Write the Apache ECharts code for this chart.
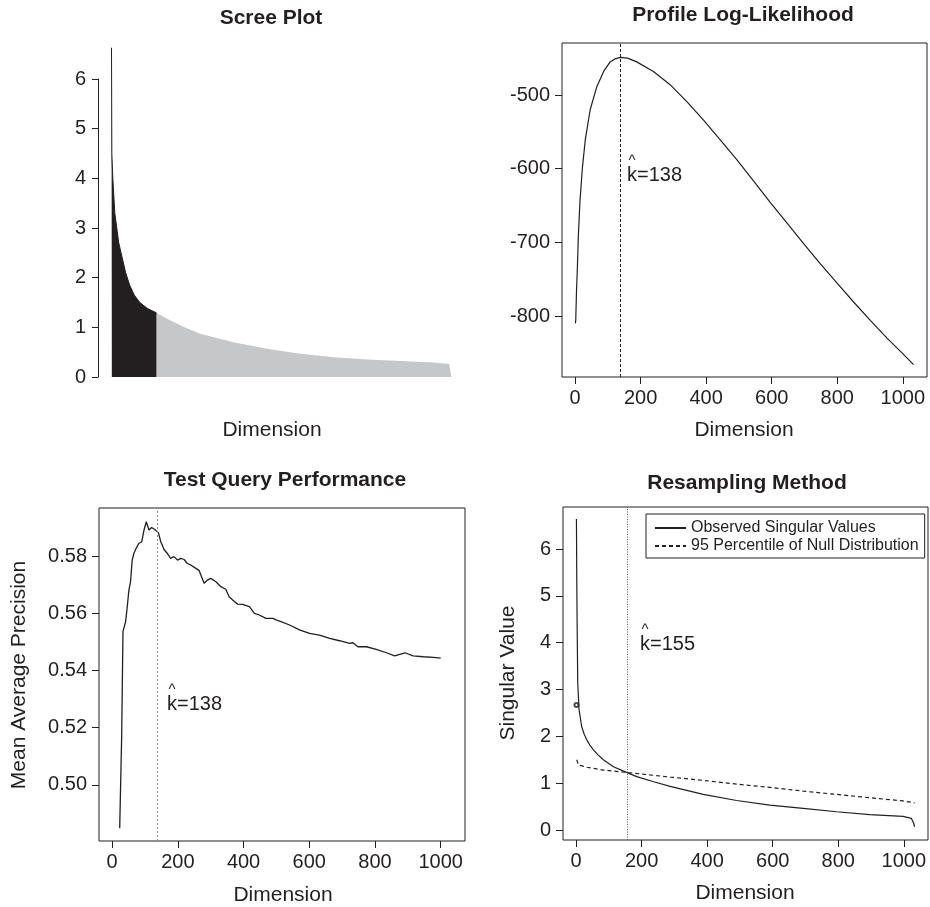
<!DOCTYPE html>
<html>
<head>
<meta charset="utf-8">
<script src="https://cdn.jsdelivr.net/npm/echarts@6/dist/echarts.min.js"></script>
<style>
  html, body { margin: 0; padding: 0; background: #fff; }
  #chart { width: 930px; height: 907px; }
</style>
</head>
<body>
<div id="chart"></div>
<script>
/* four-panel dimension selection figure */
var screeDims = [1, 2, 5, 11, 23, 44, 56, 70, 87, 110, 138, 168, 219, 270, 371, 473, 574, 676, 777, 879, 980, 1026, 1033];
var screeVals = [6.63, 4.50, 4.00, 3.30, 2.70, 2.10, 1.85, 1.65, 1.50, 1.38, 1.29, 1.18, 1.01, 0.87, 0.70, 0.57, 0.47, 0.40, 0.35, 0.32, 0.29, 0.26, 0.0];
var screeCut = 138;

var profDims = [1, 2, 4, 7, 10, 15, 22, 31, 46, 66, 87, 107, 122, 138, 160, 188, 239, 290, 341, 392, 443, 494, 545, 596, 647, 698, 748, 799, 850, 901, 952, 1000, 1033];
var profLL = [-810, -805, -770, -733, -690, -643, -600, -561, -520, -489, -468, -455, -451, -449, -450, -455, -468, -486, -509, -534, -561, -588, -617, -646, -674, -702, -729, -755, -781, -806, -830, -851, -866];
var profK = 138;

var tqDims = [23, 29, 33, 39, 41, 46, 51, 56, 61, 66, 73, 81, 90, 97, 104, 112, 120, 130, 141, 148, 158, 168, 178, 188, 199, 209, 219, 229, 239, 255, 265, 270, 280, 290, 300, 316, 331, 346, 356, 372, 382, 397, 418, 433, 448, 468, 489, 499, 514, 540, 570, 601, 631, 662, 692, 723, 733, 748, 774, 804, 835, 860, 891, 916, 947, 978, 1000];
var tqMAP = [0.4849, 0.5169, 0.5536, 0.5530, 0.5571, 0.5623, 0.5681, 0.5710, 0.5786, 0.5809, 0.5827, 0.5844, 0.5850, 0.5891, 0.5920, 0.5891, 0.5900, 0.5893, 0.5881, 0.5850, 0.5823, 0.5809, 0.5792, 0.5798, 0.5786, 0.5792, 0.5788, 0.5774, 0.5769, 0.5757, 0.5749, 0.5734, 0.5705, 0.5716, 0.5722, 0.5710, 0.5693, 0.5684, 0.5658, 0.5641, 0.5632, 0.5631, 0.5623, 0.5600, 0.5594, 0.5582, 0.5582, 0.5577, 0.5571, 0.5559, 0.5542, 0.5530, 0.5524, 0.5512, 0.5504, 0.5495, 0.5497, 0.5483, 0.5483, 0.5474, 0.5462, 0.5451, 0.5462, 0.5451, 0.5448, 0.5446, 0.5443];
var tqK = 138;

var obsDims = [1, 2, 3, 5, 9, 17, 25, 33, 43, 53, 66, 83, 114, 154, 185, 237, 287, 388, 490, 591, 693, 795, 896, 998, 1023, 1030, 1033];
var obsVals = [6.64, 5.40, 4.50, 3.14, 2.57, 2.21, 2.04, 1.92, 1.80, 1.71, 1.61, 1.50, 1.35, 1.23, 1.14, 1.03, 0.93, 0.76, 0.63, 0.53, 0.46, 0.39, 0.33, 0.29, 0.25, 0.15, 0.07];
var nullDims = [2, 7, 33, 83, 154, 287, 388, 490, 591, 693, 795, 896, 998, 1033];
var nullVals = [1.50, 1.39, 1.34, 1.28, 1.23, 1.13, 1.06, 0.98, 0.91, 0.83, 0.76, 0.69, 0.62, 0.58];
var nullFirst = [1, 2.67];
var resK = 155;

var xTicks = [0, 200, 400, 600, 800, 1000];
var profTicks = [-800, -700, -600, -500];
var tqTicks = [0.50, 0.52, 0.54, 0.56, 0.58];
var svTicks = [0, 1, 2, 3, 4, 5, 6];

(function () {
  var ink = '#231f20';
  var font = '"Liberation Sans", Arial, Helvetica, sans-serif';
  var chart = echarts.init(document.getElementById('chart'), null, { renderer: 'canvas' });

  function pairs(xs, ys) { return xs.map(function (x, i) { return [x, ys[i]]; }); }

  var screeAll = pairs(screeDims, screeVals);
  var screeBlack = screeAll.filter(function (p) { return p[0] <= screeCut; });
  var screeGrey = screeAll.filter(function (p) { return p[0] >= screeCut; });

  function boxX(idx) {
    return {
      type: 'value', gridIndex: idx, min: -40, max: 1074,
      axisLine: { show: false, onZero: false },
      axisTick: { show: true, length: 7, lineStyle: { color: ink }, customValues: xTicks },
      axisLabel: { show: true, color: ink, fontSize: 20, fontFamily: font, margin: 11, customValues: xTicks,
        formatter: function (v) { return String(v); } },
      splitLine: { show: false }
    };
  }
  function boxY(idx, min, max, ticks, fmt) {
    return {
      type: 'value', gridIndex: idx, min: min, max: max,
      axisLine: { show: false, onZero: false },
      axisTick: { show: true, length: 7, lineStyle: { color: ink }, customValues: ticks },
      axisLabel: { color: ink, fontSize: 20, fontFamily: font, margin: 12, customValues: ticks,
        formatter: fmt || function (v) { return String(v); } },
      splitLine: { show: false }
    };
  }
  function grid(l, t, w, h, boxed) {
    return { show: boxed, borderColor: ink, borderWidth: 1, backgroundColor: 'transparent',
      containLabel: false, outerBoundsMode: 'none', left: l, top: t, width: w, height: h };
  }

  function txt(text, x, y, size, bold, rot) {
    return {
      type: 'text', x: x, y: y, rotation: rot || 0, silent: true,
      style: { text: text, fill: ink, font: (bold ? 'bold ' : '') + size + 'px ' + font, textAlign: 'center', textVerticalAlign: 'middle' }
    };
  }
  function khat(label, x, y) {
    return [
      { type: 'text', x: x, y: y, silent: true,
        style: { text: label, fill: ink, font: '20px ' + font, textAlign: 'left', textVerticalAlign: 'middle' } },
      { type: 'text', x: x + 5, y: y - 14, silent: true,
        style: { text: '^', fill: ink, font: '15px ' + font, textAlign: 'center', textVerticalAlign: 'middle' } }
    ];
  }

  function vline(x, type, color) {
    return {
      silent: true, symbol: 'none', label: { show: false },
      lineStyle: { color: color, width: 1, type: type },
      data: [{ xAxis: x }]
    };
  }

  chart.setOption({
    animation: false,
    backgroundColor: '#fff',
    textStyle: { fontFamily: font, color: ink },
    grid: [
      grid(98, 79, 367, 298, false),
      grid(562, 43, 365, 334, true),
      grid(99, 508, 366, 333, true),
      grid(563, 507, 365, 333, true)
    ],
    xAxis: [
      { type: 'value', gridIndex: 0, min: -40, max: 1074, show: false },
      boxX(1), boxX(2), boxX(3)
    ],
    yAxis: [
      {
        type: 'value', gridIndex: 0, min: 0, max: 6, interval: 1,
        axisLine: { show: true, onZero: false, lineStyle: { color: ink, width: 1 } },
        axisTick: { show: true, length: 6, lineStyle: { color: ink } },
        axisLabel: { color: ink, fontSize: 20, fontFamily: font, margin: 12 },
        splitLine: { show: false }
      },
      boxY(1, -882.8, -429.4, profTicks),
      boxY(2, 0.4804, 0.5968, tqTicks, function (v) { return v.toFixed(2); }),
      boxY(3, -0.2135, 6.897, svTicks)
    ],
    legend: {
      data: ['Observed Singular Values', '95 Percentile of Null Distribution'],
      orient: 'vertical', left: 646, top: 514,
      borderColor: ink, borderWidth: 1, borderRadius: 0,
      padding: [6, 6, 4, 8], itemGap: 2, itemWidth: 31, itemHeight: 16,
      itemStyle: { opacity: 0 },
      textStyle: { fontSize: 16, color: ink, fontFamily: font, lineHeight: 16 },
      selectedMode: false
    },
    series: [
      {
        name: 'scree-k', type: 'line', xAxisIndex: 0, yAxisIndex: 0, data: screeBlack,
        showSymbol: false, clip: false,
        lineStyle: { color: ink, width: 1 }, areaStyle: { color: ink, opacity: 1 }
      },
      {
        name: 'scree-rest', type: 'line', xAxisIndex: 0, yAxisIndex: 0, data: screeGrey,
        showSymbol: false, clip: false,
        lineStyle: { width: 0, color: '#c6c7c9' }, areaStyle: { color: '#c6c7c9', opacity: 1 }
      },
      {
        name: 'profile', type: 'line', xAxisIndex: 1, yAxisIndex: 1, data: pairs(profDims, profLL),
        showSymbol: false,
        lineStyle: { color: ink, width: 1.2 },
        markLine: vline(profK, [3, 2], ink)
      },
      {
        name: 'map', type: 'line', xAxisIndex: 2, yAxisIndex: 2, data: pairs(tqDims, tqMAP),
        showSymbol: false,
        lineStyle: { color: ink, width: 1.3 },
        markLine: vline(tqK, [2, 2], '#8a8a8a')
      },
      {
        name: 'Observed Singular Values', type: 'line', xAxisIndex: 3, yAxisIndex: 3, data: pairs(obsDims, obsVals),
        symbol: 'none',
        lineStyle: { color: ink, width: 1.2 }, itemStyle: { color: ink },
        markLine: vline(resK, [1, 1.5], '#555')
      },
      {
        name: '95 Percentile of Null Distribution', type: 'line', xAxisIndex: 3, yAxisIndex: 3, data: pairs(nullDims, nullVals),
        symbol: 'none',
        lineStyle: { color: ink, width: 1.2, type: [4, 3] }, itemStyle: { color: ink }
      },
      {
        name: 'null-first', type: 'scatter', xAxisIndex: 3, yAxisIndex: 3, data: [nullFirst],
        symbol: 'emptyCircle', symbolSize: 4, itemStyle: { color: ink, borderColor: ink, borderWidth: 1 }
      }
    ],
    graphic: [
      txt('Scree Plot', 271, 18, 21, true),
      txt('Profile Log-Likelihood', 743, 15, 21, true),
      txt('Test Query Performance', 285, 480, 21, true),
      txt('Resampling Method', 747, 483, 21, true),
      txt('Dimension', 272, 430, 21),
      txt('Dimension', 744, 430, 21),
      txt('Dimension', 283, 895, 21),
      txt('Dimension', 745, 893, 21),
      txt('Mean Average Precision', 19, 675, 21, false, Math.PI / 2),
      txt('Singular Value', 508, 673, 21, false, Math.PI / 2)
    ].concat(khat('k=138', 627, 175), khat('k=138', 167, 704), khat('k=155', 640, 644))
  });
  window.addEventListener('resize', function () { chart.resize(); });
})();
</script>
</body>
</html>
